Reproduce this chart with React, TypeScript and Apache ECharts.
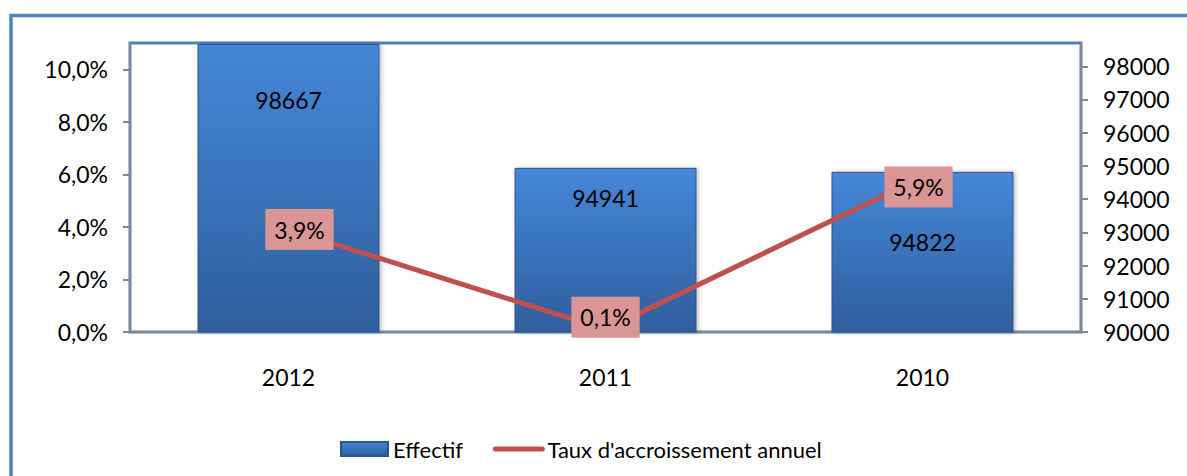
import React, { useEffect, useRef } from "react";
import * as echarts from "echarts";

const categories = ["2012", "2011", "2010"];
const effectif = [98667, 94941, 94822];
const taux = [3.9, 0.1, 5.9];
const seriesNames = ["Effectif", "Taux d'accroissement annuel"];

// label placement tweaks (pixels) to mimic the reference
const barLabelOffsets = [39, 14, 54];
const lineLabelOffsets: [number, number][] = [
  [11, 0],
  [0, -12],
  [-4, 10],
];

const FONT = "Lato, 'Liberation Sans', sans-serif";

export default function App() {
  const ref = useRef<HTMLDivElement>(null);
  useEffect(() => {
    if (!ref.current) return;
    const chart = echarts.init(ref.current, undefined, { renderer: "svg" });
    const pct = (v: number) => v.toFixed(1).replace(".", ",") + "%";
    const barGrad = new echarts.graphic.LinearGradient(0, 0, 0, 1, [
      { offset: 0, color: "#4587D8" },
      { offset: 1, color: "#2F5E9D" },
    ]);
    chart.setOption({
      animation: false,
      textStyle: { fontFamily: FONT },
      graphic: [
        {
          type: "rect",
          z: -10,
          shape: { x: 11, y: 15.5, width: 1300, height: 600 },
          style: { fill: "none", stroke: "#4F81BD", lineWidth: 3.5 },
        },
      ],
      grid: {
        left: 130,
        right: 106,
        top: 43,
        bottom: 144,
        show: true,
        borderColor: "#4F81BD",
        borderWidth: 3,
        backgroundColor: "#fff",
      },
      legend: {
        left: 335,
        top: 433,
        itemWidth: 47,
        itemHeight: 14,
        itemGap: 30,
        textStyle: { fontSize: 22, color: "#000", fontFamily: FONT },
        data: [
          { name: seriesNames[0], icon: "rect" },
          {
            name: seriesNames[1],
            itemStyle: { opacity: 0 },
            lineStyle: { width: 5, color: "#C0504D", cap: "round" },
          },
        ],
      },
      xAxis: {
        type: "category",
        data: categories,
        axisLine: { show: true, lineStyle: { color: "#868686", width: 2 } },
        axisTick: { show: false },
        axisLabel: { fontSize: 23, color: "#000", margin: 33, fontFamily: FONT },
      },
      yAxis: [
        {
          type: "value",
          position: "left",
          min: 0,
          max: 11,
          interval: 2,
          splitLine: { show: false },
          axisLine: { show: true, lineStyle: { color: "#868686", width: 2 } },
          axisTick: { show: true, length: 7, lineStyle: { color: "#868686", width: 2 } },
          axisLabel: {
            fontSize: 23,
            color: "#000",
            margin: 22,
            fontFamily: FONT,
            showMaxLabel: false,
            formatter: (v: number) => (v > 10.5 ? "" : pct(v)),
          },
        },
        {
          type: "value",
          position: "right",
          min: 90000,
          max: 98700,
          interval: 1000,
          splitLine: { show: false },
          axisLine: { show: true, lineStyle: { color: "#868686", width: 2 } },
          axisTick: { show: true, length: 7, lineStyle: { color: "#868686", width: 2 } },
          axisLabel: {
            fontSize: 23,
            color: "#000",
            margin: 22,
            fontFamily: FONT,
            showMaxLabel: false,
            formatter: (v: number) => (v > 98500 ? "" : String(v)),
          },
        },
      ],
      series: [
        {
          name: seriesNames[0],
          type: "bar",
          yAxisIndex: 1,
          barWidth: 182,
          itemStyle: {
            color: barGrad,
            borderColor: "#2B568E",
            borderWidth: 1,
            shadowColor: "rgba(0,0,0,0.25)",
            shadowBlur: 4,
            shadowOffsetX: 2,
            shadowOffsetY: 0,
          },
          label: {
            show: true,
            position: "insideTop",
            fontSize: 23,
            color: "#000",
            fontFamily: FONT,
          },
          data: effectif.map((v, i) => ({
            value: v,
            label: { offset: [0, barLabelOffsets[i]] },
          })),
        },
        {
          name: seriesNames[1],
          type: "line",
          yAxisIndex: 0,
          symbol: "circle",
          symbolSize: 1,
          itemStyle: { color: "#C0504D" },
          lineStyle: { color: "#C0504D", width: 5, cap: "round" },
          label: {
            show: true,
            position: "inside",
            fontSize: 23,
            color: "#000",
            fontFamily: FONT,
            backgroundColor: "#D99694",
            padding: [9, 9, 9, 9],
            formatter: (p: any) => pct(p.value),
          },
          z: 5,
          data: taux.map((v, i) => ({
            value: v,
            label: { offset: lineLabelOffsets[i] },
          })),
        },
      ],
    });
    return () => chart.dispose();
  }, []);
  return (
    <div
      ref={ref}
      style={{ position: "fixed", left: 0, top: 0, width: 1187, height: 476, background: "#fff" }}
    />
  );
}
